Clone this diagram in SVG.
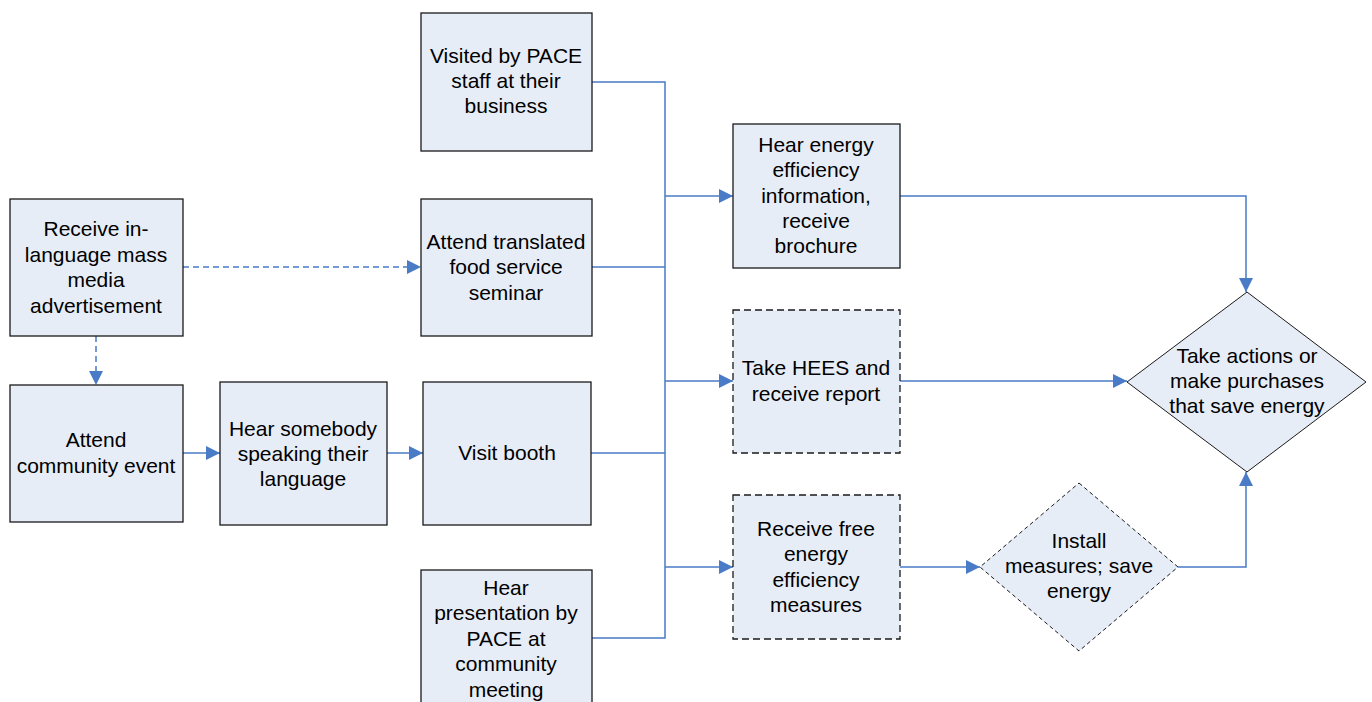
<svg xmlns="http://www.w3.org/2000/svg" width="1372" height="702" viewBox="0 0 1372 702">
  <defs>
    <marker id="arrow" markerUnits="userSpaceOnUse" markerWidth="14" markerHeight="14" refX="14" refY="7" orient="auto">
      <path d="M0,0 L14,7 L0,14 Z" fill="#4A7BC6"/>
    </marker>
    <style>
      .box { fill: #E7EDF7; stroke: #1a1a1a; stroke-width: 1.3; }
      .dash { stroke-dasharray: 7 4; }
      .dia { fill: #E7EDF7; stroke: #1a1a1a; stroke-width: 1; }
      .dia-dash { stroke-dasharray: 4 3; }
      .lbl { font-family: "Liberation Sans", Arial, sans-serif; font-size: 21px; fill: #000; text-anchor: middle; }
      .conn { fill: none; stroke: #4A7BC6; stroke-width: 1.5; }
      .conn-dash { stroke-dasharray: 6 4; }
    </style>
  </defs>
  <rect width="1372" height="702" fill="#ffffff"/>

  <!-- connectors -->
  <g id="connectors">
    <!-- dashed links from mass media advertisement -->
    <path class="conn conn-dash" d="M183,267 H421" marker-end="url(#arrow)"/>
    <path class="conn conn-dash" d="M96,336 V385" marker-end="url(#arrow)"/>
    <!-- community event chain -->
    <path class="conn" d="M183,453 H220" marker-end="url(#arrow)"/>
    <path class="conn" d="M387,453 H423" marker-end="url(#arrow)"/>
    <!-- collector bus -->
    <path class="conn" d="M592,82 H665 V638 H592"/>
    <path class="conn" d="M592,267 H665"/>
    <path class="conn" d="M591,453 H665"/>
    <path class="conn" d="M665,196 H733" marker-end="url(#arrow)"/>
    <path class="conn" d="M665,381 H733" marker-end="url(#arrow)"/>
    <path class="conn" d="M665,567 H733" marker-end="url(#arrow)"/>
    <!-- to outcomes -->
    <path class="conn" d="M900,196 H1246 V292" marker-end="url(#arrow)"/>
    <path class="conn" d="M900,381 H1127" marker-end="url(#arrow)"/>
    <path class="conn" d="M900,567 H980" marker-end="url(#arrow)"/>
    <path class="conn" d="M1178,567 H1246 V472" marker-end="url(#arrow)"/>
  </g>

  <g id="mass-media">
    <rect class="box" x="10" y="199" width="173" height="137"/>
    <text class="lbl" x="96" y="236">Receive in-</text>
    <text class="lbl" x="96" y="262">language mass</text>
    <text class="lbl" x="96" y="287">media</text>
    <text class="lbl" x="96" y="313">advertisement</text>
  </g>

  <g id="community-event">
    <rect class="box" x="10" y="385" width="173" height="137"/>
    <text class="lbl" x="96" y="447">Attend</text>
    <text class="lbl" x="96" y="473">community event</text>
  </g>

  <g id="hear-somebody">
    <rect class="box" x="220" y="382" width="167" height="143"/>
    <text class="lbl" x="303" y="436">Hear somebody</text>
    <text class="lbl" x="303" y="461">speaking their</text>
    <text class="lbl" x="303" y="486">language</text>
  </g>

  <g id="visit-booth">
    <rect class="box" x="423" y="382" width="168" height="143"/>
    <text class="lbl" x="507" y="460">Visit booth</text>
  </g>

  <g id="visited-by-staff">
    <rect class="box" x="421" y="13" width="171" height="138"/>
    <text class="lbl" x="506" y="63">Visited by PACE</text>
    <text class="lbl" x="506" y="88">staff at their</text>
    <text class="lbl" x="506" y="113">business</text>
  </g>

  <g id="food-seminar">
    <rect class="box" x="421" y="199" width="171" height="137"/>
    <text class="lbl" x="506" y="249">Attend translated</text>
    <text class="lbl" x="506" y="274">food service</text>
    <text class="lbl" x="506" y="300">seminar</text>
  </g>

  <g id="presentation">
    <rect class="box" x="421" y="570" width="171" height="140"/>
    <text class="lbl" x="506" y="595">Hear</text>
    <text class="lbl" x="506" y="620">presentation by</text>
    <text class="lbl" x="506" y="646">PACE at</text>
    <text class="lbl" x="506" y="671">community</text>
    <text class="lbl" x="506" y="697">meeting</text>
  </g>

  <g id="brochure">
    <rect class="box" x="733" y="124" width="167" height="144"/>
    <text class="lbl" x="816" y="152">Hear energy</text>
    <text class="lbl" x="816" y="177">efficiency</text>
    <text class="lbl" x="816" y="203">information,</text>
    <text class="lbl" x="816" y="228">receive</text>
    <text class="lbl" x="816" y="253">brochure</text>
  </g>

  <g id="hees">
    <rect class="box dash" x="733" y="310" width="167" height="143"/>
    <text class="lbl" x="816" y="375">Take HEES and</text>
    <text class="lbl" x="816" y="401">receive report</text>
  </g>

  <g id="free-measures">
    <rect class="box dash" x="733" y="495" width="167" height="144"/>
    <text class="lbl" x="816" y="536">Receive free</text>
    <text class="lbl" x="816" y="561">energy</text>
    <text class="lbl" x="816" y="587">efficiency</text>
    <text class="lbl" x="816" y="612">measures</text>
  </g>

  <g id="install-measures">
    <polygon class="dia dia-dash" points="1079,483 1178,567 1079,651 980,567"/>
    <text class="lbl" x="1079" y="548">Install</text>
    <text class="lbl" x="1079" y="573">measures; save</text>
    <text class="lbl" x="1079" y="598">energy</text>
  </g>

  <g id="take-actions">
    <polygon class="dia" points="1247,292 1366,382 1247,472 1127,382"/>
    <text class="lbl" x="1247" y="363">Take actions or</text>
    <text class="lbl" x="1247" y="388">make purchases</text>
    <text class="lbl" x="1247" y="413">that save energy</text>
  </g>
</svg>
